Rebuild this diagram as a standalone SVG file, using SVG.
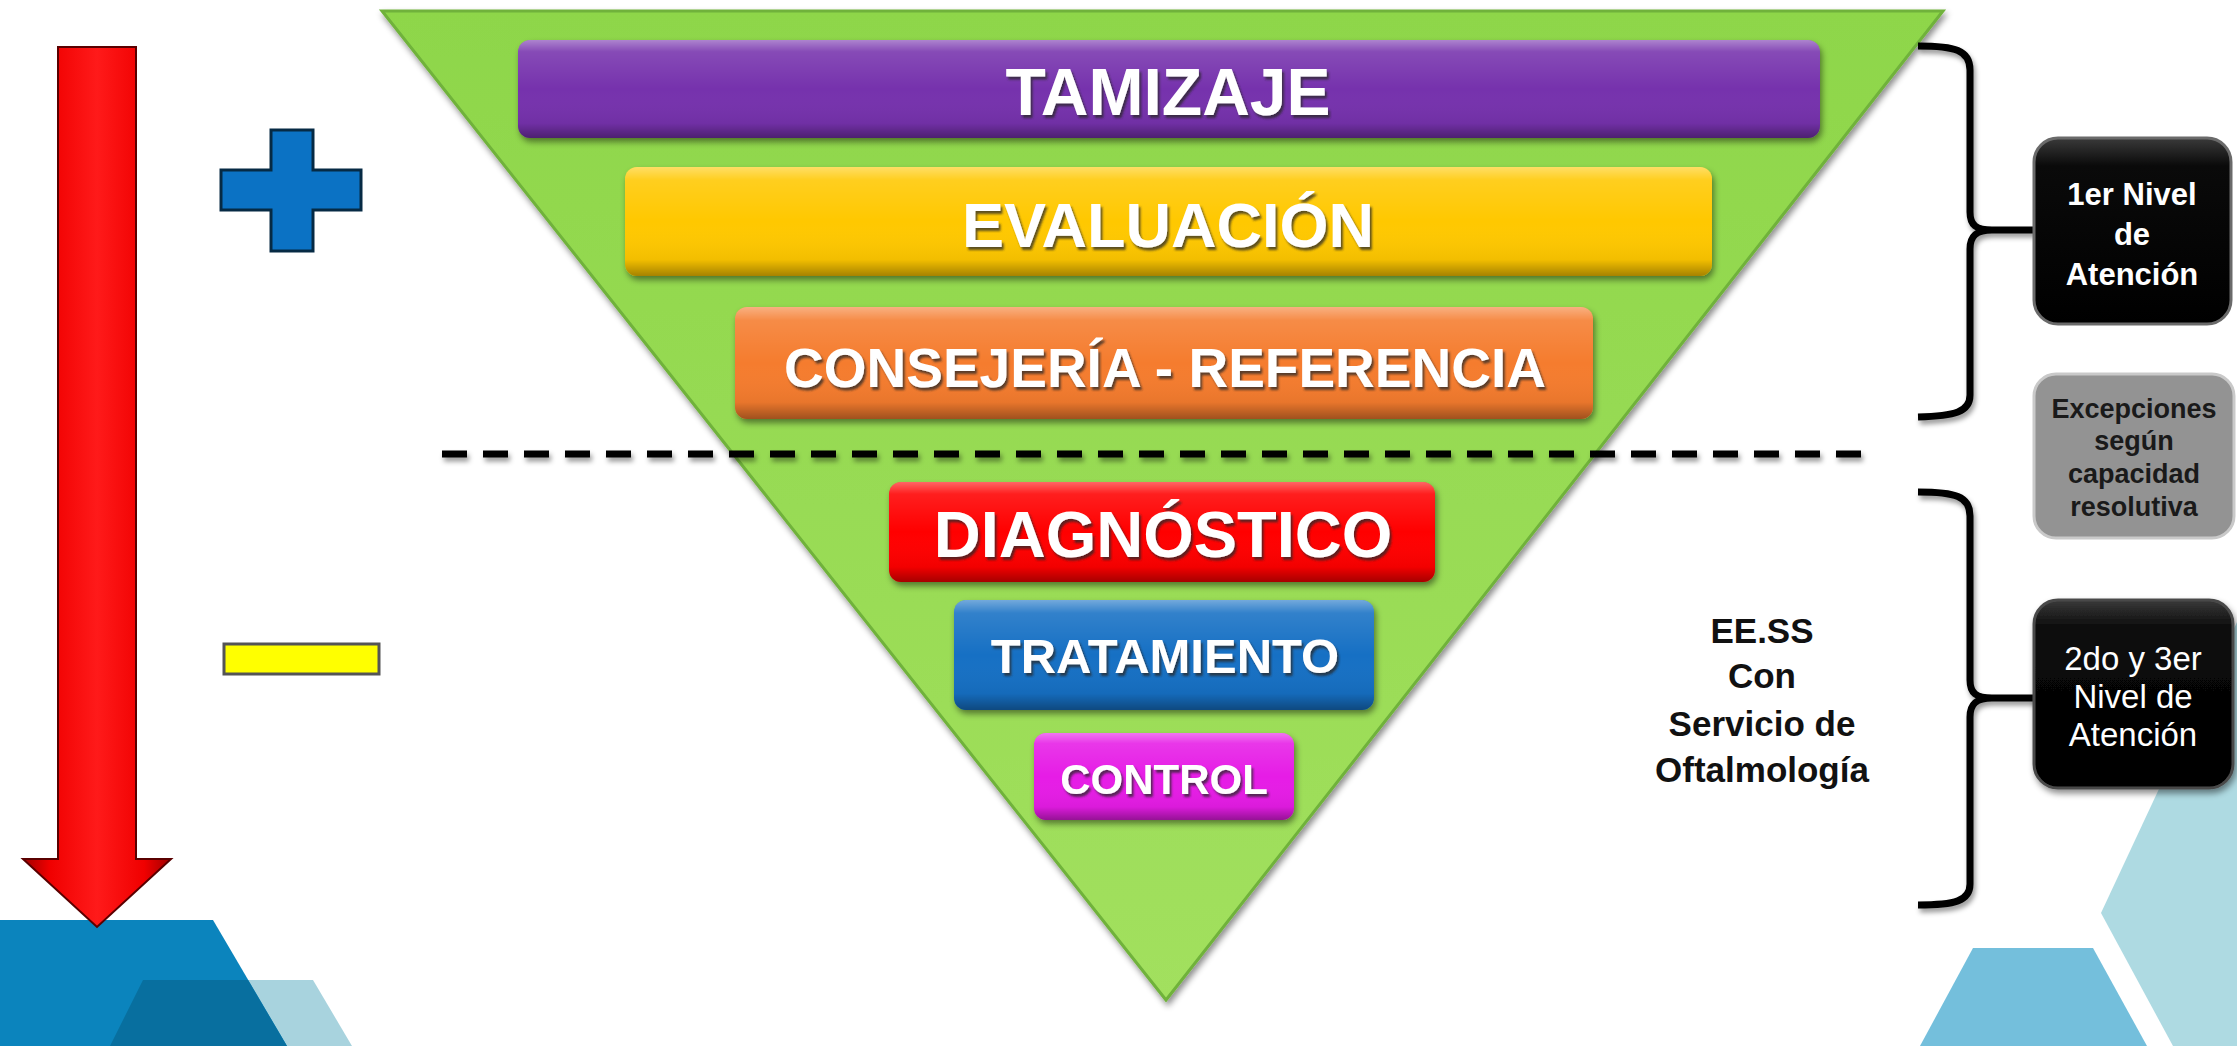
<svg xmlns="http://www.w3.org/2000/svg" width="2237" height="1046" viewBox="0 0 2237 1046">
<defs>
<style>
.bartext{font-family:"Liberation Sans",Arial,sans-serif;font-weight:bold;fill:#ffffff;text-anchor:middle;filter:url(#ts)}
.boxtext{font-family:"Liberation Sans",Arial,sans-serif;font-weight:bold;fill:#ffffff;text-anchor:middle;font-size:31px}
.boxtext2{font-family:"Liberation Sans",Arial,sans-serif;font-weight:normal;fill:#ffffff;text-anchor:middle;font-size:33px}
.greytext{font-family:"Liberation Sans",Arial,sans-serif;font-weight:bold;fill:#1a1a1a;text-anchor:middle;font-size:27px}
.eetext{font-family:"Liberation Sans",Arial,sans-serif;font-weight:bold;fill:#111111;text-anchor:middle;font-size:35px}
.brace{fill:none;stroke:#000;stroke-width:7;stroke-linecap:butt;filter:url(#bs)}
.sheen{fill:url(#sheen)}
</style>
<filter id="ts" x="-10%" y="-30%" width="120%" height="160%">
<feDropShadow dx="2" dy="3" stdDeviation="1.2" flood-color="#2a2a2a" flood-opacity="0.75"/>
</filter>
<filter id="sh" x="-5%" y="-10%" width="110%" height="130%">
<feDropShadow dx="2" dy="4" stdDeviation="3" flood-color="#000" flood-opacity="0.45"/>
</filter>
<filter id="bs" x="-20%" y="-5%" width="140%" height="110%">
<feDropShadow dx="2" dy="4" stdDeviation="2.5" flood-color="#000" flood-opacity="0.4"/>
</filter>
<filter id="ls" filterUnits="userSpaceOnUse" x="420" y="430" width="1470" height="50">
<feDropShadow dx="2" dy="4" stdDeviation="2.5" flood-color="#000" flood-opacity="0.4"/>
</filter>
<linearGradient id="sheen" x1="0" y1="0" x2="0" y2="1">
<stop offset="0" stop-color="#fff" stop-opacity="0.4"/>
<stop offset="0.12" stop-color="#fff" stop-opacity="0.12"/>
<stop offset="0.5" stop-color="#fff" stop-opacity="0"/>
<stop offset="0.85" stop-color="#000" stop-opacity="0.05"/>
<stop offset="1" stop-color="#000" stop-opacity="0.35"/>
</linearGradient>
<linearGradient id="green" x1="0" y1="0" x2="0" y2="1">
<stop offset="0" stop-color="#8ed64a"/>
<stop offset="1" stop-color="#a2e05e"/>
</linearGradient>
<linearGradient id="redArrow" x1="0" y1="0" x2="1" y2="0">
<stop offset="0" stop-color="#a00000"/>
<stop offset="0.18" stop-color="#f00000"/>
<stop offset="0.5" stop-color="#ff1a1a"/>
<stop offset="0.82" stop-color="#f00000"/>
<stop offset="1" stop-color="#a00000"/>
</linearGradient>
<linearGradient id="blackBox" x1="0" y1="0" x2="0" y2="1">
<stop offset="0" stop-color="#3a3a3a"/>
<stop offset="0.15" stop-color="#0a0a0a"/>
<stop offset="1" stop-color="#000"/>
</linearGradient>
</defs>
<rect x="0" y="0" width="2237" height="1046" fill="#ffffff"/>

<g id="background-shapes">
<polygon points="140,980 313,980 352,1046 110,1046" fill="#a8d3de"/>
<polygon points="0,920 213,920 287,1046 0,1046" fill="#0b84bd"/>
<polygon points="143,980 248,980 287,1046 110,1046" fill="#086f9f"/>
<polygon points="2237,622 2237,1046 2173,1046 2101,913" fill="#aedae2"/>
<polygon points="1973,948 2093,948 2147,1046 1920,1046" fill="#74bfdc"/>
</g>

<g id="funnel">
<polygon points="382,11 1943,11 1166,1000" fill="url(#green)" stroke="#6fb23a" stroke-width="3" filter="url(#sh)"/>
</g>

<g id="arrow-down">
<polygon points="58,47 136,47 136,859 171,859 97,927 23,859 58,859" fill="url(#redArrow)" stroke="#5a0000" stroke-width="2"/>
</g>
<g id="plus-sign">
<polygon points="271,130 313,130 313,170 361,170 361,210 313,210 313,251 271,251 271,210 221,210 221,170 271,170" fill="#0b72c4" stroke="#062a44" stroke-width="3"/>
</g>
<g id="minus-sign">
<rect x="224" y="644" width="155" height="30" fill="#ffff00" stroke="#555" stroke-width="3"/>
</g>

<g id="tamizaje">
<rect x="518" y="40" width="1302" height="98" rx="12" fill="#7632ad" filter="url(#sh)"/>
<rect x="518" y="40" width="1302" height="98" rx="12" class="sheen"/>
<text x="1168" y="115" class="bartext" font-size="66">TAMIZAJE</text>
</g>
<g id="evaluacion">
<rect x="625" y="167" width="1087" height="109" rx="12" fill="#ffc800" filter="url(#sh)"/>
<rect x="625" y="167" width="1087" height="109" rx="12" class="sheen"/>
<text x="1168" y="247" class="bartext" font-size="63">EVALUACIÓN</text>
</g>
<g id="consejeria-referencia">
<rect x="735" y="307" width="858" height="112" rx="12" fill="#f57c2f" filter="url(#sh)"/>
<rect x="735" y="307" width="858" height="112" rx="12" class="sheen"/>
<text x="1165" y="387" class="bartext" font-size="55">CONSEJERÍA - REFERENCIA</text>
</g>

<g id="divider">
<line x1="442" y1="454" x2="1862" y2="454" stroke="#000" stroke-width="7" stroke-dasharray="25 16" filter="url(#ls)"/>
</g>

<g id="diagnostico">
<rect x="889" y="482" width="546" height="100" rx="12" fill="#ff0000" filter="url(#sh)"/>
<rect x="889" y="482" width="546" height="100" rx="12" class="sheen"/>
<text x="1163" y="557" class="bartext" font-size="65">DIAGNÓSTICO</text>
</g>
<g id="tratamiento">
<rect x="954" y="600" width="420" height="110" rx="12" fill="#1470c4" filter="url(#sh)"/>
<rect x="954" y="600" width="420" height="110" rx="12" class="sheen"/>
<text x="1165" y="673" class="bartext" font-size="49">TRATAMIENTO</text>
</g>
<g id="control">
<rect x="1034" y="733" width="260" height="87" rx="12" fill="#e61ae6" filter="url(#sh)"/>
<rect x="1034" y="733" width="260" height="87" rx="12" class="sheen"/>
<text x="1164" y="794" class="bartext" font-size="42">CONTROL</text>
</g>

<g id="connectors">
<path class="brace" d="M1918,46 C1955,46 1970,50 1970,70 L1970,212 C1970,225 1976,230 1992,230 L2036,230 M1992,230 C1976,230 1970,236 1970,249 L1970,395 C1970,412 1955,416 1918,417"/>
<path class="brace" d="M1918,492 C1955,492 1970,496 1970,516 L1970,680 C1970,693 1976,698 1992,698 L2036,698 M1992,698 C1976,698 1970,704 1970,717 L1970,884 C1970,901 1955,905 1918,905"/>
</g>

<g id="nivel-1">
<rect x="2034" y="138" width="197" height="186" rx="24" fill="url(#blackBox)" stroke="#6a6a6a" stroke-width="3"/>
<text class="boxtext" x="2132" y="205">1er Nivel</text>
<text class="boxtext" x="2132" y="245">de</text>
<text class="boxtext" x="2132" y="285">Atención</text>
</g>
<g id="excepciones">
<rect x="2034" y="374" width="200" height="164" rx="22" fill="#939393" stroke="#c9c9c9" stroke-width="3"/>
<text class="greytext" x="2134" y="418">Excepciones</text>
<text class="greytext" x="2134" y="450">según</text>
<text class="greytext" x="2134" y="483">capacidad</text>
<text class="greytext" x="2134" y="516">resolutiva</text>
</g>
<g id="nivel-2-3">
<rect x="2034" y="600" width="199" height="188" rx="24" fill="url(#blackBox)" stroke="#4a4a4a" stroke-width="3" filter="url(#sh)"/>
<text class="boxtext2" x="2133" y="670">2do y 3er</text>
<text class="boxtext2" x="2133" y="708">Nivel de</text>
<text class="boxtext2" x="2133" y="746">Atención</text>
</g>
<g id="eess-label">
<text class="eetext" x="1762" y="643">EE.SS</text>
<text class="eetext" x="1762" y="688">Con</text>
<text class="eetext" x="1762" y="736">Servicio de</text>
<text class="eetext" x="1762" y="782">Oftalmología</text>
</g>
</svg>
